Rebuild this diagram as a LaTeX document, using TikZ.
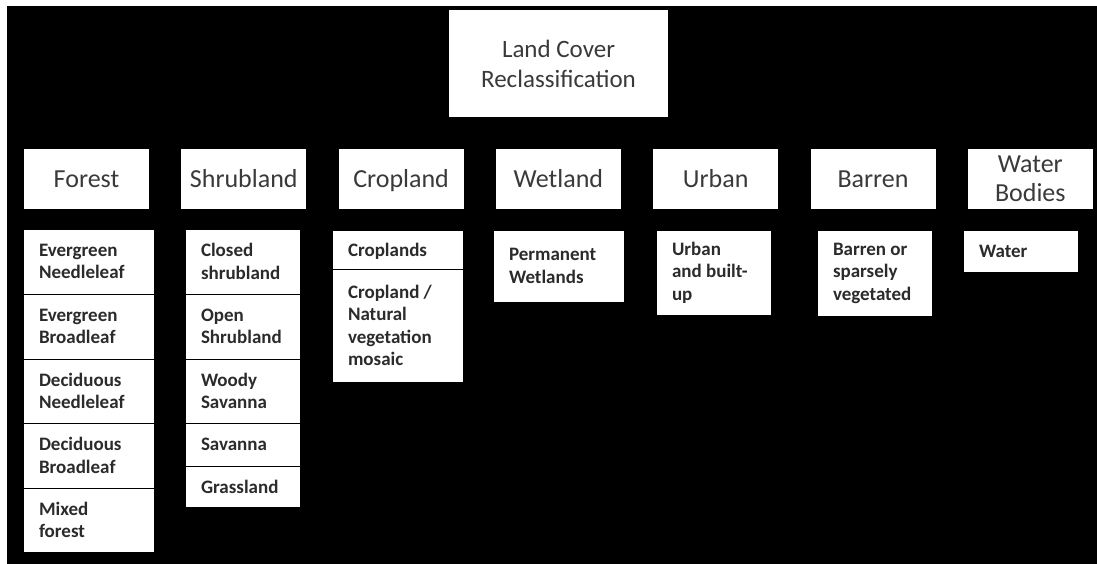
\documentclass[tikz,border=0pt]{standalone}
\usepackage{fontspec}
\setmainfont{Carlito}
\usetikzlibrary{positioning}
\definecolor{inkgray}{HTML}{3A3A3A}
\definecolor{subink}{HTML}{2B2B2B}

\begin{document}
\begin{tikzpicture}[x=1pt, y=-1pt,
  every node/.style={rectangle, fill=white, inner sep=0pt, outer sep=0pt},
  headbox/.style={minimum width=219pt, minimum height=107pt, align=center, text=inkgray, font=\fontsize{25}{30}\selectfont},
  catbox/.style={minimum width=125pt, minimum height=60pt, align=center, text=inkgray, font=\fontsize{26}{29}\selectfont},
  oneline/.style={text height=17pt, text depth=0pt},
  subbox/.style={draw=black, line width=1pt, align=flush left, inner xsep=16pt, text=subink, font=\bfseries\fontsize{19}{22.5}\selectfont},
  widecell/.style={subbox, text width=99pt},
  narrowcell/.style={subbox, text width=83pt}]
  \useasboundingbox (0,0) rectangle (1097,564);
  \fill[white] (0,0) rectangle (1097,564);
  \fill[black] (7,6) rectangle (1097,564);
  % top and classes
  \node[headbox] (root) at (558.5,63.5) {Land Cover\\Reclassification};
  \node[catbox, oneline, anchor=north west] (forest) at (24,149) {Forest};
  \node[catbox, oneline, right=32.3pt of forest] (shrub) {Shrubland};
  \node[catbox, oneline, right=32.3pt of shrub] (crop) {Cropland};
  \node[catbox, oneline, right=32.3pt of crop] (wet) {Wetland};
  \node[catbox, oneline, right=32.3pt of wet] (urban) {Urban};
  \node[catbox, oneline, right=32.3pt of urban] (barren) {Barren};
  \node[catbox, right=32.3pt of barren] (water) {Water\\Bodies};
  % forest
  \node[widecell, minimum height=65pt, anchor=north west] (fen) at (23,229) {Evergreen\\Needleleaf};
  \node[widecell, minimum height=65pt, below=0pt of fen] (feb) {Evergreen\\Broadleaf};
  \node[widecell, minimum height=64pt, below=0pt of feb] (fdn) {Deciduous\\Needleleaf};
  \node[widecell, minimum height=65pt, below=0pt of fdn] (fdb) {Deciduous\\Broadleaf};
  \node[widecell, minimum height=64pt, below=0pt of fdb] (fmx) {Mixed\\forest};
  % shrubland
  \node[narrowcell, minimum height=65pt, anchor=north west] (scs) at (185,229) {Closed\\shrubland};
  \node[narrowcell, minimum height=65pt, below=0pt of scs] (sos) {Open\\Shrubland};
  \node[narrowcell, minimum height=64pt, below=0pt of sos] (sws) {Woody\\Savanna};
  \node[narrowcell, minimum height=43pt, below=0pt of sws] (ssv) {Savanna};
  \node[narrowcell, minimum height=41pt, below=0pt of ssv] (sgr) {Grassland};
  % cropland
  \node[widecell, minimum height=39pt, text depth=0pt, anchor=north west] (ccl) at (332,230) {Croplands};
  \node[widecell, minimum height=113pt, below=0pt of ccl] (cmo) {Cropland /\\Natural\\vegetation\\mosaic};
  % the rest
  \node[widecell, minimum height=72pt, anchor=north west] (wpw) at (493,230) {Permanent\\Wetlands};
  \node[narrowcell, minimum height=85pt, anchor=north west] (ubu) at (656,230) {Urban\\and built-\\up};
  \node[narrowcell, minimum height=86pt, anchor=north west] (bsv) at (817,230) {Barren or\\sparsely\\vegetated};
  \node[narrowcell, minimum height=42pt, anchor=north west] (wwa) at (963,230) {Water};
\end{tikzpicture}
\end{document}
